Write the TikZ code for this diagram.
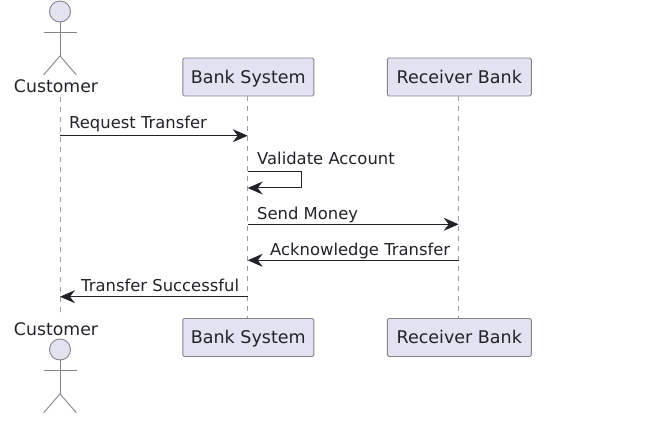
\documentclass[tikz,border=0pt]{standalone}
\usepackage{fontspec}
\setmainfont{DejaVu Sans}
\usetikzlibrary{positioning,arrows.meta,calc}
\definecolor{partfill}{HTML}{E2E2F0}
\definecolor{partline}{HTML}{84848C}
\definecolor{inkdark}{HTML}{222228}
\tikzset{
  part/.style={draw=partline,fill=partfill,rounded corners=1.5pt,line width=0.9pt,
    minimum height=38pt,text=inkdark,inner sep=0pt,text height=15.6pt,text depth=3pt,
    font=\fontsize{17.5}{20}\selectfont},
  acthead/.style={circle,draw=partline,fill=partfill,line width=0.9pt,minimum size=21pt,inner sep=0pt},
  actlimb/.style={line width=0.9pt,partline},
  actname/.style={text=inkdark,inner sep=0pt,font=\fontsize{17.3}{20}\selectfont},
  lifeln/.style={dash pattern=on 5pt off 5pt,line width=0.8pt,partline!80},
  msg/.style={-{Stealth[length=15pt,width=13pt,inset=5pt]},line width=1pt,inkdark},
  msglbl/.style={anchor=base west,text=inkdark,inner sep=0pt,font=\fontsize{16.4}{19}\selectfont},
}
\begin{document}
\begin{tikzpicture}[x=1pt,y=-1pt]
  \useasboundingbox (0,0) rectangle (651,441);
  % participants, top and bottom
  \node[part,minimum width=131pt] (banktop) at (248.3,77) {Bank System};
  \node[part,minimum width=144pt] (recvtop) at (459.3,77) {Receiver Bank};
  \node[part,minimum width=131pt] (bankbot) at (248.3,337.5) {Bank System};
  \node[part,minimum width=144pt] (recvbot) at (459.3,337.5) {Receiver Bank};
  % actors
  \node[actname] (custtop) at (56,86) {Customer};
  \node[actname] (custbot) at (56,329) {Customer};
  \node[acthead] (headtop) at (60,11.5) {};
  \node[acthead] (headbot) at (60,349.5) {};
  \foreach \h in {headtop,headbot}{
    \coordinate (hip\h) at ($(\h.south)+(0,33.5)$);
    \coordinate (arm\h) at ($(\h.south)+(0,10)$);
    \draw[actlimb] (\h.south)--(hip\h);
    \draw[actlimb] ($(arm\h)+(-16.5,0)$)--($(arm\h)+(16.5,0)$);
    \draw[actlimb] ($(hip\h)+(-16.5,19)$)--(hip\h)--($(hip\h)+(16.5,19)$);
  }
  % lifelines
  \coordinate (custa) at (60,97);
  \coordinate (custb) at (60,317);
  \draw[lifeln] (custa)--(custb);
  \draw[lifeln] (banktop.south -| 247.7,0)--(bankbot.north -| 247.7,0);
  \draw[lifeln] (recvtop.south -| 458.7,0)--(recvbot.north -| 458.7,0);
  % message ends
  \foreach \n/\x/\y in {a1/60/135.7,a2/247.7/135.7,b1/247.7/172,b2/301.7/172,b3/301.7/188,b4/247.7/188,
    c1/247.7/224.3,c2/458.7/224.3,d1/458.7/260.3,d2/247.7/260.3,e1/247.7/296.7,e2/60/296.7}{
    \coordinate (\n) at (\x,\y);
  }
  \draw[msg] (a1)--(a2);
  \draw[msg] (b1)--(b2)--(b3)--(b4);
  \draw[msg] (c1)--(c2);
  \draw[msg] (d1)--(d2);
  \draw[msg] (e1)--(e2);
  % message labels
  \node[msglbl] (reqlbl) at (69,128.5) {Request Transfer};
  \node[msglbl] (vallbl) at (257,165) {Validate Account};
  \node[msglbl] (sndlbl) at (257,219) {Send Money};
  \node[msglbl] (acklbl) at (270,255) {Acknowledge Transfer};
  \node[msglbl] (suclbl) at (81,291.5) {Transfer Successful};
\end{tikzpicture}
\end{document}
